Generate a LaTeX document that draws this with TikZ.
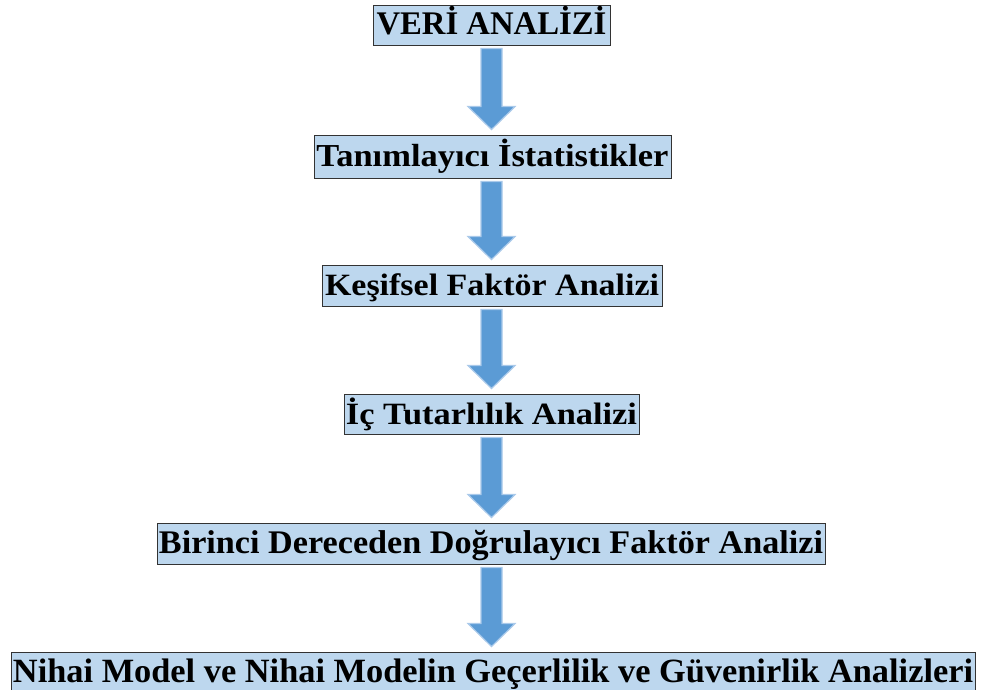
\documentclass[tikz,border=0pt]{standalone}
\usepackage{fontspec}
\setmainfont{Liberation Serif}
\usetikzlibrary{calc}
\definecolor{boxfill}{HTML}{BDD7EE}
\definecolor{boxline}{HTML}{333333}
\definecolor{arrowblue}{HTML}{5B9BD5}
\definecolor{arrowhalo}{HTML}{A9C9EA}
\tikzset{
  stagebox/.style={draw=boxline, fill=boxfill, line width=0.9pt, inner sep=0pt,
    text height=25pt, text depth=5pt, font=\bfseries},
}
% block arrow from the bottom of one box to the top of the next
\newcommand\blockarrow[2]{%
  \path let \p1=($(#1.south)+(0,-3)$), \p2=($(#2.north)+(0,5)$) in
    [fill=arrowblue, draw=arrowhalo, line width=1.2pt, line join=miter]
    (491.5,\y1) -- (502,\y1) -- (502,\y2+23) -- (515,\y2+23) -- (491.5,\y2)
    -- (468,\y2+23) -- (481,\y2+23) -- (481,\y1) -- cycle;}
\begin{document}
\begin{tikzpicture}[x=1pt,y=1pt]
\useasboundingbox (0,0) rectangle (981,689);
\fill[white] (0,0) rectangle (981,689);

\node[stagebox, minimum width=237pt, minimum height=40pt] (veri) at (491.5,664)
  {\resizebox{230pt}{\height}{\fontsize{33}{33}\selectfont VERİ ANALİZİ}};
\node[stagebox, minimum width=357pt, minimum height=43pt] (tanim) at (492.5,532.5)
  {\resizebox{352pt}{\height}{\fontsize{32}{32}\selectfont Tanımlayıcı İstatistikler}};
\node[stagebox, minimum width=340pt, minimum height=41pt] (kesif) at (492,403.5)
  {\resizebox{334pt}{\height}{\fontsize{31}{31}\selectfont Keşifsel Faktör Analizi}};
\node[stagebox, minimum width=295pt, minimum height=40pt] (ic) at (491.5,275)
  {\resizebox{291pt}{\height}{\fontsize{31}{31}\selectfont İç Tutarlılık Analizi}};
\node[stagebox, minimum width=668pt, minimum height=41pt] (birinci) at (491,145.5)
  {\resizebox{664pt}{\height}{\fontsize{33}{33}\selectfont Birinci Dereceden Doğrulayıcı Faktör Analizi}};
\node[stagebox, minimum width=964pt, minimum height=40pt] (nihai) at (493,17)
  {\resizebox{960pt}{\height}{\fontsize{34}{34}\selectfont Nihai Model ve Nihai Modelin Geçerlilik ve Güvenirlik Analizleri}};

\blockarrow{veri}{tanim}
\blockarrow{tanim}{kesif}
\blockarrow{kesif}{ic}
\blockarrow{ic}{birinci}
\blockarrow{birinci}{nihai}
\end{tikzpicture}
\end{document}
